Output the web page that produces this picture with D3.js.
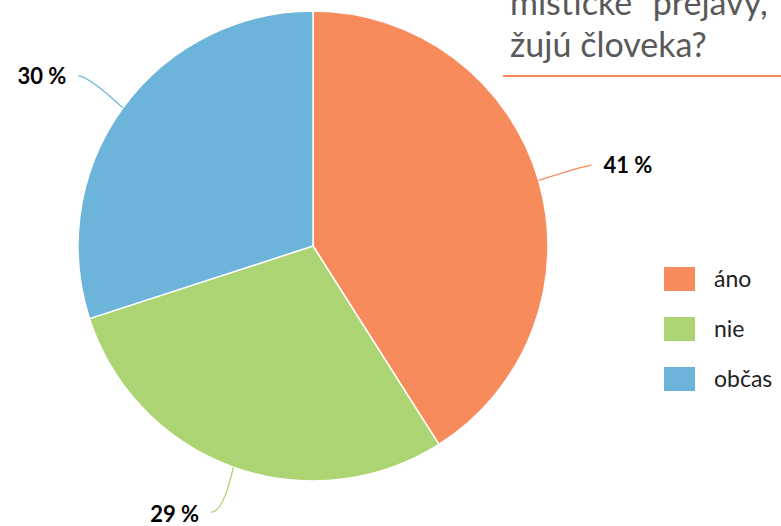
<!DOCTYPE html>
<html>
<head>
<meta charset="utf-8">
<script src="https://cdn.jsdelivr.net/npm/d3@7"></script>
<style>
  body { margin: 0; background: #fff; }
  svg { display: block; font-family: Lato, "Open Sans", sans-serif; }
</style>
</head>
<body>
<div id="chart"></div>
<script>
// data
const categories = ['áno', 'nie', 'občas']
const values = [41, 29, 30]
const colors = ['#F88B5B', '#ADD473', '#6CB4DA']
const titleLines = ['mistické“ prejavy,', 'žujú človeka?']

const width = 781, height = 526
const cx = 313, cy = 246, radius = 235

const svg = d3.select('#chart').append('svg')
    .attr('width', width)
    .attr('height', height)

// title (cut off at the top in the original)
svg.append('g').selectAll('text')
    .data(titleLines)
    .join('text')
    .attr('x', 510)
    .attr('y', (d, i) => 15 + i * 42)
    .attr('fill', '#595959')
    .attr('font-size', 34)
    .attr('font-weight', 400)
    .text(d => d)

svg.append('line')
    .attr('x1', 503).attr('x2', width)
    .attr('y1', 76).attr('y2', 76)
    .attr('stroke', '#F88B5B')
    .attr('stroke-width', 2)

const pie = d3.pie().sort(null).value(d => d)
const arcs = pie(values)
const arc = d3.arc().innerRadius(0).outerRadius(radius)

const g = svg.append('g').attr('transform', `translate(${cx},${cy})`)

g.selectAll('path.slice')
    .data(arcs)
    .join('path')
    .attr('class', 'slice')
    .attr('d', arc)
    .attr('fill', (d, i) => colors[i])
    .attr('stroke', '#fff')
    .attr('stroke-width', 1.5)

// leader lines + labels
const pt = (a, r) => [Math.sin(a) * r, -Math.cos(a) * r]

arcs.forEach((d, i) => {
    let mid = (d.startAngle + d.endAngle) / 2
    let start = pt(mid, radius)
    let end = pt(mid, radius + (i == 1 ? 48 : 55))
    let side = end[0] >= 0 ? 1 : -1
    if (i == 1) end[0] -= 6
    let ctrl = [end[0] - side * 12, end[1] + (i == 1 ? 0 : 2)]

    g.append('path')
        .attr('d', `M${start[0]},${start[1]}Q${ctrl[0]},${ctrl[1]} ${end[0]},${end[1]}`)
        .attr('fill', 'none')
        .attr('stroke', colors[i])
        .attr('stroke-width', 1.3)

    g.append('text')
        .attr('x', end[0] + side * 12)
        .attr('y', end[1] + (i == 1 ? 10 : 8))
        .attr('text-anchor', side > 0 ? 'start' : 'end')
        .attr('font-size', 22)
        .attr('font-weight', 'bold')
        .attr('fill', '#000')
        .text(values[i] + ' %')
})

// legend
const legend = svg.append('g').attr('transform', 'translate(664,267)')
const items = legend.selectAll('g')
    .data(categories)
    .join('g')
    .attr('transform', (d, i) => `translate(0,${i * 50})`)

items.append('rect')
    .attr('width', 31)
    .attr('height', 24)
    .attr('fill', (d, i) => colors[i])

items.append('text')
    .attr('x', 50)
    .attr('y', 20)
    .attr('font-size', 23)
    .attr('fill', '#222')
    .text(d => d)
</script>
</body>
</html>
